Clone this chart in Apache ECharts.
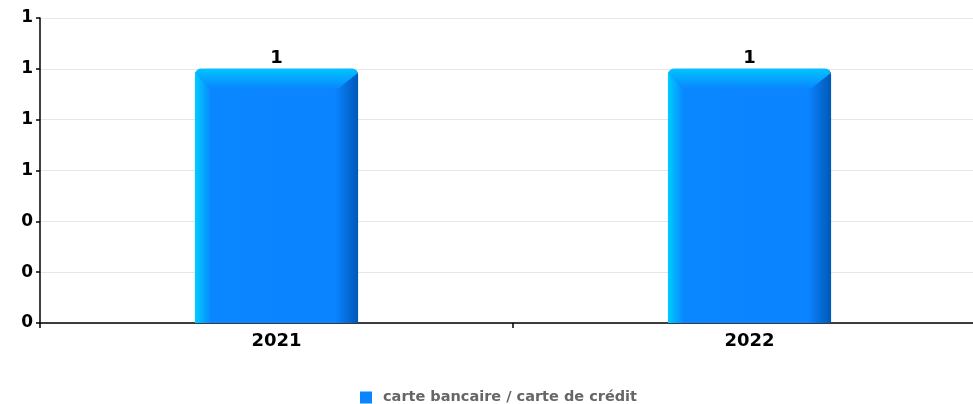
<!DOCTYPE html>
<html><head><meta charset="utf-8">
<script src="https://cdn.jsdelivr.net/npm/echarts@6/dist/echarts.min.js"></script>
<style>html,body{margin:0;padding:0;background:#fff}#c{width:973px;height:404px}</style>
</head><body><div id="c"></div>
<script>
const categories = ['2021', '2022'];
const seriesName = 'carte bancaire / carte de crédit';
const values = [1, 1];

const chart = echarts.init(document.getElementById('c'));
const font = 'DejaVu Sans';

function renderBar(params, api) {
  const idx = api.value(0);
  const v = api.value(1);
  const top = api.coord([idx, v]);
  const base = api.coord([idx, 0]);
  const bw = api.size([1, 0])[0] * 0.345;
  const x0 = top[0] - bw / 2, x1 = top[0] + bw / 2;
  const y0 = top[1], y1 = base[1];
  const lw = 14, rw = 20, th = 20;
  return {
    type: 'group',
    children: [
      { type: 'rect', shape: { x: x0, y: y0, width: bw, height: y1 - y0, r: [6, 6, 0, 0] },
        style: { fill: new echarts.graphic.LinearGradient(0, 0, 1, 0, [
          { offset: 0, color: '#00ccff' }, { offset: 0.1, color: '#0a86ff' },
          { offset: 0.86, color: '#0a84ff' }, { offset: 1, color: '#0058b8' }]) } },
      { type: 'polygon', shape: { points: [[x0 + 4, y0], [x1 - 4, y0], [x1, y0 + 4], [x1 - rw, y0 + th], [x0 + lw, y0 + th], [x0, y0 + 4]] },
        style: { fill: new echarts.graphic.LinearGradient(0, 0, 0, 1, [
          { offset: 0, color: '#00c4ff' }, { offset: 1, color: '#0a86ff' }]) } },
      { type: 'text', style: { text: String(v), x: top[0], y: y0 - 2, align: 'center', verticalAlign: 'bottom',
        font: 'bold 18px "DejaVu Sans"', fill: '#000' } }
    ]
  };
}

chart.setOption({
  animation: false,
  grid: { left: 40, width: 946, top: 18, bottom: 81, containLabel: false, outerBoundsMode: 'none' },
  legend: { top: 385, left: 355, itemWidth: 12, itemHeight: 12, itemGap: 10, icon: 'rect',
    textStyle: { fontFamily: font, fontSize: 14.5, fontWeight: 'bold', color: '#666', padding: [0, 0, 0, 6] },
    data: [seriesName] },
  xAxis: { type: 'category', data: categories,
    axisLine: { lineStyle: { color: '#000', width: 1.5 } },
    axisTick: { show: true, length: 5, lineStyle: { color: '#000', width: 1.5 } },
    axisLabel: { fontFamily: font, fontSize: 18, fontWeight: 'bold', color: '#000', margin: 9 },
    splitLine: { show: false } },
  yAxis: { type: 'value', min: 0, max: 1.2, interval: 0.2,
    axisLine: { show: true, lineStyle: { color: '#000', width: 1.5 } },
    axisTick: { show: true, length: 4, lineStyle: { color: '#000', width: 1.5 } },
    axisLabel: { fontFamily: font, fontSize: 17, fontWeight: 'bold', color: '#000', margin: 7,
      formatter: v => v.toFixed(0) },
    splitLine: { lineStyle: { color: '#e6e6e6', width: 1 } } },
  series: [{ type: 'custom', name: seriesName, renderItem: renderBar,
    itemStyle: { color: '#0a84ff' },
    encode: { x: 0, y: 1 },
    data: values.map((v, i) => [i, v]) }]
});
</script></body></html>
